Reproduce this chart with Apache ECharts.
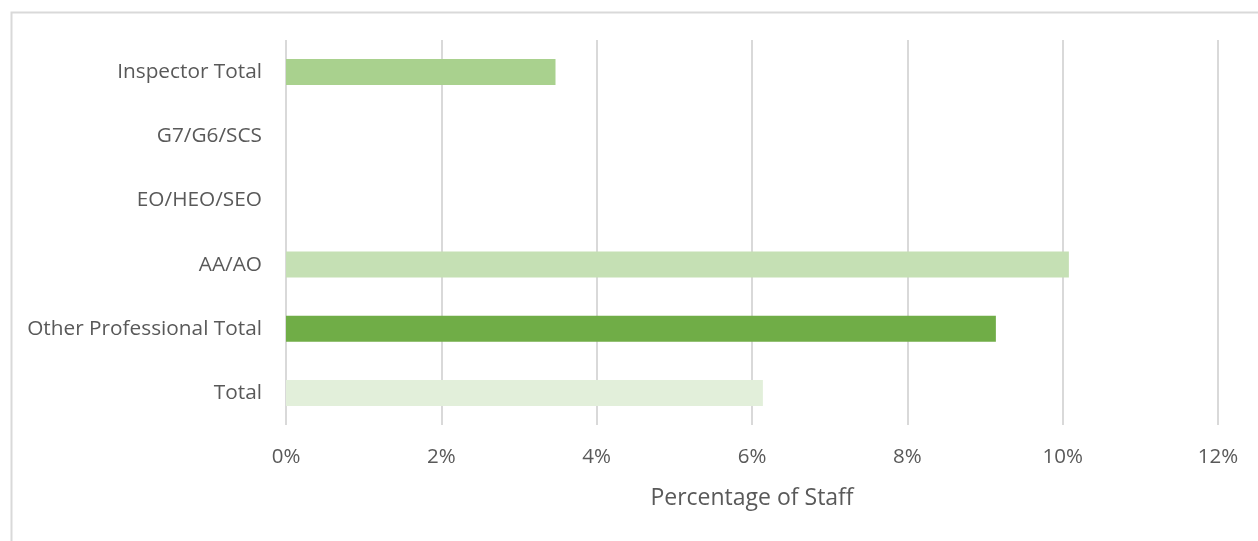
<!DOCTYPE html>
<html>
<head>
<meta charset="utf-8">
<script src="https://cdn.jsdelivr.net/npm/echarts@6/dist/echarts.min.js"></script>
<style>
html,body{margin:0;padding:0;background:#fff;}
#c{width:1258px;height:541px;}
</style>
</head>
<body>
<div id="c"></div>
<script>
const categories = ['Total', 'Other Professional Total', 'AA/AO', 'EO/HEO/SEO', 'G7/G6/SCS', 'Inspector Total'];
const values = [0.0614, 0.0914, 0.1008, 0, 0, 0.0347];
const barColors = ['#e2efda', '#70ad47', '#c5e0b4', '#c5e0b4', '#a9d18e', '#a9d18e'];
const xTicks = [0, 0.02, 0.04, 0.06, 0.08, 0.10, 0.12];
const axisTitle = 'Percentage of Staff';

const font = '"Open Sans", sans-serif';
const chart = echarts.init(document.getElementById('c'), null, {renderer: 'canvas'});
chart.setOption({
  animation: false,
  graphic: [{
    type: 'rect', left: 9, top: 10, silent: true,
    shape: {width: 1300, height: 600},
    style: {fill: 'none', stroke: '#d9d9d9', lineWidth: 2}
  }],
  grid: {left: 286, right: 40, top: 40, bottom: 116, containLabel: false},
  xAxis: {
    type: 'value', min: 0, max: 0.12, interval: 0.02,
    name: axisTitle, nameLocation: 'middle', nameGap: 62,
    nameTextStyle: {color: '#595959', fontSize: 23, fontFamily: font},
    axisLine: {show: false}, axisTick: {show: false},
    axisLabel: {color: '#595959', fontSize: 20.5, fontFamily: font, margin: 22,
      formatter: v => Math.round(v * 100) + '%'},
    splitLine: {show: true, lineStyle: {color: '#d9d9d9', width: 2}}
  },
  yAxis: {
    type: 'category', data: categories,
    axisLine: {show: false}, axisTick: {show: false},
    axisLabel: {color: '#595959', fontSize: 20.8, fontFamily: font, margin: 24}
  },
  series: [{
    type: 'bar', barWidth: 26,
    data: values.map((v, i) => ({value: v, itemStyle: {color: barColors[i]}}))
  }]
});
</script>
</body>
</html>
